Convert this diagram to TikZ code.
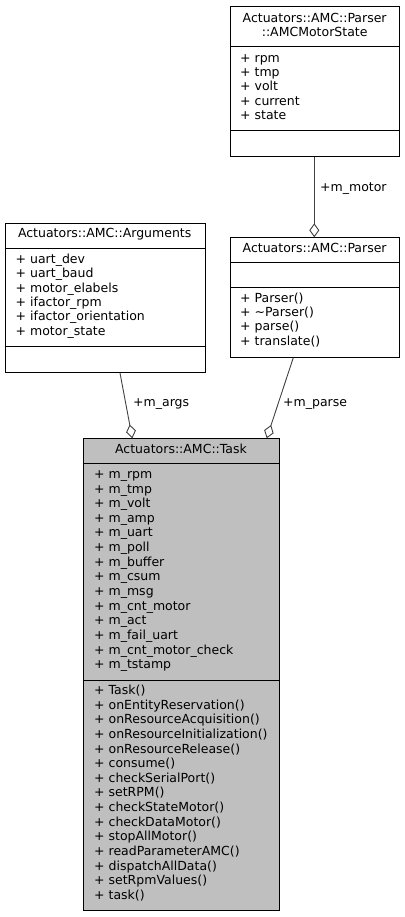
\documentclass[tikz,border=0pt]{standalone}
\usepackage{fontspec}
\setmainfont{DejaVu Sans}
\usetikzlibrary{arrows.meta}
\definecolor{edgegray}{gray}{0.25}
\definecolor{taskgray}{gray}{0.75}
\begin{document}
\begin{tikzpicture}[x=1pt,y=-1pt,
  box/.style={draw=black, line width=1pt, inner sep=0pt, anchor=north west},
  sep/.style={draw=black, line width=1pt},
  mem/.style={anchor=mid west, inner sep=0pt, font=\fontsize{12.5}{14}\selectfont},
  ttl/.style={anchor=mid, inner sep=0pt, font=\fontsize{12.5}{14}\selectfont},
  lbl/.style={anchor=mid west, inner sep=0pt, font=\fontsize{12.5}{14}\selectfont},
  agg/.style={draw=edgegray, line width=0.9pt, -{Diamond[open,fill=white,length=14pt,width=10pt]}}
]
\useasboundingbox (0,0) rectangle (404,917);

% AMCMotorState
\node[box, minimum width=169.3pt, minimum height=149.7pt] (ms) at (230,6) {};
\draw[sep] ([yshift=-40.7pt]ms.north west) -- ([yshift=-40.7pt]ms.north east);
\draw[sep] ([yshift=-124.7pt]ms.north west) -- ([yshift=-124.7pt]ms.north east);
\node[ttl] (mst1) at (314.65,19.3) {Actuators::AMC::Parser};
\node[ttl] (mst2) at (314.65,33.3) {::AMCMotorState};
\foreach \t [count=\i from 0] in {+ rpm,+ tmp,+ volt,+ current,+ state}
  \node[mem] (msa\i) at (240,59.3+\i*14.35) {\t};

% Arguments
\node[box, minimum width=200pt, minimum height=148.7pt] (args) at (4.7,223.3) {};
\draw[sep] ([yshift=-25pt]args.north west) -- ([yshift=-25pt]args.north east);
\draw[sep] ([yshift=-123.4pt]args.north west) -- ([yshift=-123.4pt]args.north east);
\node[ttl] (argst) at (104.7,235) {Actuators::AMC::Arguments};
\foreach \t [count=\i from 0] in {+ uart\_dev,+ uart\_baud,+ motor\_elabels,+ ifactor\_rpm,+ ifactor\_orientation,+ motor\_state}
  \node[mem] (arga\i) at (15.5,260.7+\i*14.35) {\t};

% Parser
\node[box, minimum width=169.3pt, minimum height=119.4pt] (parser) at (230,237.3) {};
\draw[sep] ([yshift=-25.4pt]parser.north west) -- ([yshift=-25.4pt]parser.north east);
\draw[sep] ([yshift=-50.4pt]parser.north west) -- ([yshift=-50.4pt]parser.north east);
\node[ttl] (parsert) at (314.65,249.3) {Actuators::AMC::Parser};
\foreach \t [count=\i from 0] in {+ Parser(),+ \textasciitilde Parser(),+ parse(),+ translate()}
  \node[mem] (parm\i) at (240,300+\i*14.1) {\t};

% Task
\node[box, fill=taskgray, minimum width=196.6pt, minimum height=471.7pt] (task) at (82.7,438.3) {};
\draw[sep] ([yshift=-25pt]task.north west) -- ([yshift=-25pt]task.north east);
\draw[sep] ([yshift=-241.7pt]task.north west) -- ([yshift=-241.7pt]task.north east);
\node[ttl] (taskt) at (181,450.7) {Actuators::AMC::Task};
\foreach \t [count=\i from 0] in {+ m\_rpm,+ m\_tmp,+ m\_volt,+ m\_amp,+ m\_uart,+ m\_poll,+ m\_buffer,+ m\_csum,+ m\_msg,+ m\_cnt\_motor,+ m\_act,+ m\_fail\_uart,+ m\_cnt\_motor\_check,+ m\_tstamp}
  \node[mem] (taska\i) at (94,475.7+\i*14.64) {\t};
\foreach \t [count=\i from 0] in {+ Task(),+ onEntityReservation(),+ onResourceAcquisition(),+ onResourceInitialization(),+ onResourceRelease(),+ consume(),+ checkSerialPort(),+ setRPM(),+ checkStateMotor(),+ checkDataMotor(),+ stopAllMotor(),+ readParameterAMC(),+ dispatchAllData(),+ setRpmValues(),+ task()}
  \node[mem] (taskm\i) at (94,691.7+\i*14.64) {\t};

% connectors
\coordinate (msout) at ([xshift=84.3pt]ms.south west);
\coordinate (parin) at ([xshift=84.3pt]parser.north west);
\draw[agg] (msout) -- (parin);
\node[lbl] (lmotor) at (320,189) {+m\_motor};

\coordinate (argsout) at ([xshift=115.3pt]args.south west);
\coordinate (taskinA) at ([xshift=49.6pt]task.north west);
\draw[agg] (argsout) -- (taskinA);
\node[lbl] (largs) at (133,404) {+m\_args};

\coordinate (parout) at ([xshift=63.3pt]parser.south west);
\coordinate (taskinP) at ([xshift=184pt]task.north west);
\draw[agg] (parout) -- (taskinP);
\node[lbl] (lparse) at (283,404) {+m\_parse};
\end{tikzpicture}
\end{document}
